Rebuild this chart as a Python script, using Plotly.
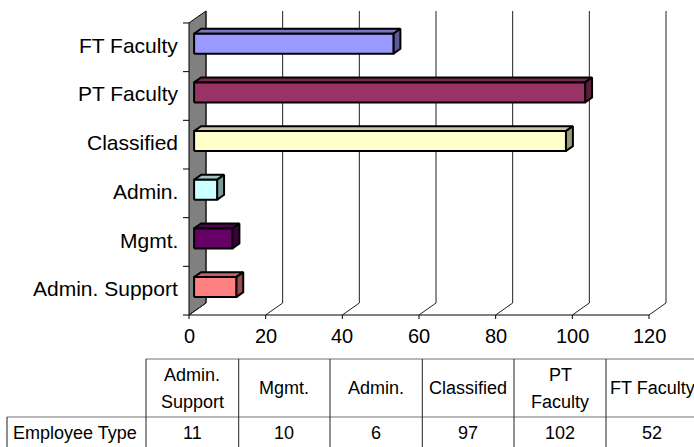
import plotly.graph_objects as go

# ---- data -------------------------------------------------------------
categories = ["Admin. Support", "Mgmt.", "Admin.", "Classified", "PT Faculty", "FT Faculty"]
header_labels = ["Admin.<br>Support", "Mgmt.", "Admin.", "Classified", "PT<br>Faculty", "FT Faculty"]
values = [11, 10, 6, 97, 102, 52]
series_name = "Employee Type"
x_ticks = [0, 20, 40, 60, 80, 100, 120]
bar_colors = ["#FF8080", "#660066", "#CCFFFF", "#FFFFCC", "#993366", "#9999FF"]

# ---- page geometry (pixels) ------------------------------------------
W, H = 694, 447
X0_PX, PX_PER_X = 189.0, 460.0 / 120.0      # value axis on the front plane
FLOOR_PX, PX_PER_CAT = 315.0, 48.67          # category axis
DEPTH_DX_PX, DEPTH_DY_PX = 17.0, 12.0         # 3-D depth offset
BAR_FRONT, BAR_BACK = 0.30, 0.71              # bar depth fractions
BAR_H_PX = 20.0

x_range = [-X0_PX / PX_PER_X, (W - X0_PX) / PX_PER_X]
y_range = [-(H - FLOOR_PX) / PX_PER_CAT, FLOOR_PX / PX_PER_CAT]
DX = DEPTH_DX_PX / PX_PER_X
DY = DEPTH_DY_PX / PX_PER_CAT
BAR_H = BAR_H_PX / PX_PER_CAT
N = len(categories)
XMAX = x_ticks[-1]


def shade(hex_color, k):
    h = hex_color.lstrip("#")
    r, g, b = (int(h[i:i + 2], 16) for i in (0, 2, 4))
    return "rgb({},{},{})".format(int(r * k), int(g * k), int(b * k))


fig = go.Figure()


def poly(xs, ys, fill=None, color="black", width=1):
    fig.add_trace(go.Scatter(
        x=list(xs) + [xs[0]] if fill else list(xs),
        y=list(ys) + [ys[0]] if fill else list(ys),
        mode="lines",
        fill="toself" if fill else None,
        fillcolor=fill,
        line=dict(color=color, width=width),
        hoverinfo="skip", showlegend=False,
    ))


# side wall
poly([0, DX, DX, 0], [0, DY, N + DY, N], fill="#808080", color="black", width=1)

# wall ticks at category boundaries
for i in range(N + 1):
    poly([-6 / PX_PER_X, 0], [i, i])

# floor: front edge, gridlines on the back plane, small ticks
poly([0, XMAX], [0, 0])
for t in x_ticks:
    poly([t, t + DX, t + DX], [0, DY, N + DY], color="#202020")
    poly([t, t], [0, -4 / PX_PER_CAT])

# 3-D bars
for i, (v, c) in enumerate(zip(values, bar_colors)):
    yc = i + 0.5
    x1, x2 = BAR_FRONT * DX, BAR_BACK * DX
    b1, t1 = yc - BAR_H / 2 + BAR_FRONT * DY, yc + BAR_H / 2 + BAR_FRONT * DY
    b2, t2 = yc - BAR_H / 2 + BAR_BACK * DY, yc + BAR_H / 2 + BAR_BACK * DY
    # top face
    poly([x1, v + x1, v + x2, x2], [t1, t1, t2, t2], fill=shade(c, 0.78), width=2)
    # end face
    poly([v + x1, v + x2, v + x2, v + x1], [b1, b2, t2, t1], fill=shade(c, 0.6), width=2)
    # front face
    poly([x1, v + x1, v + x1, x1], [b1, b1, t1, t1], fill=c, width=2)

ann = []
FONT = "Liberation Sans, Arial, sans-serif"
TFONT = dict(family=FONT, size=18, color="black")

# category labels
for i, name in enumerate(categories):
    ann.append(dict(x=0, y=i + 0.5, xref="x", yref="y", text=name, showarrow=False,
                    xanchor="right", yanchor="middle", xshift=-9, yshift=2,
                    font=dict(family=FONT, size=21, color="black")))

# value-axis labels
for t in x_ticks:
    ann.append(dict(x=t, y=0, xref="x", yref="y", text=str(t), showarrow=False,
                    xanchor="center", yanchor="middle", yshift=-21,
                    font=dict(family=FONT, size=20, color="black")))

# ---- data table ------------------------------------------------------
col_edges = [146, 238.7, 330, 422.3, 514, 606, 698]
TBL_TOP, TBL_MID, TBL_BOT = 359, 417, 447
LEFT_BOX = 7
LINE_GAP = 27


def px(xp):
    return xp / W


def py(yp):
    return 1 - yp / H


shapes = []
hcol, vcol = "#707070", "#202020"
shapes.append(dict(type="line", xref="paper", yref="paper", x0=px(col_edges[0]), x1=px(W + 5),
                   y0=py(TBL_TOP), y1=py(TBL_TOP), line=dict(color=hcol, width=1)))
shapes.append(dict(type="line", xref="paper", yref="paper", x0=px(LEFT_BOX), x1=px(W + 5),
                   y0=py(TBL_MID), y1=py(TBL_MID), line=dict(color=hcol, width=1)))
shapes.append(dict(type="line", xref="paper", yref="paper", x0=px(LEFT_BOX), x1=px(LEFT_BOX),
                   y0=py(TBL_MID), y1=py(TBL_BOT + 5), line=dict(color=vcol, width=1)))
for xe in col_edges:
    shapes.append(dict(type="line", xref="paper", yref="paper", x0=px(xe), x1=px(xe),
                       y0=py(TBL_TOP), y1=py(TBL_BOT + 5), line=dict(color=vcol, width=1)))

for j, (lab, v) in enumerate(zip(header_labels, values)):
    xc = (col_edges[j] + col_edges[j + 1]) / 2
    lines = lab.split("<br>")
    mid = (TBL_TOP + TBL_MID) / 2
    for k, line in enumerate(lines):
        yl = mid + (k - (len(lines) - 1) / 2) * LINE_GAP
        ann.append(dict(x=px(xc), y=py(yl), xref="paper", yref="paper",
                        text=line, showarrow=False, xanchor="center", yanchor="middle",
                        font=TFONT))
    ann.append(dict(x=px(xc), y=py(433), xref="paper", yref="paper",
                    text=str(v), showarrow=False, xanchor="center", yanchor="middle",
                    font=TFONT))

ann.append(dict(x=px(11), y=py(433), xref="paper", yref="paper", text=series_name,
                showarrow=False, xanchor="left", yanchor="middle", font=TFONT))

fig.update_layout(
    width=W, height=H,
    margin=dict(l=0, r=0, t=0, b=0),
    paper_bgcolor="white", plot_bgcolor="white",
    showlegend=False,
    xaxis=dict(range=x_range, visible=False, fixedrange=True),
    yaxis=dict(range=y_range, visible=False, fixedrange=True),
    annotations=ann, shapes=shapes,
)

fig.write_html("out.html")
